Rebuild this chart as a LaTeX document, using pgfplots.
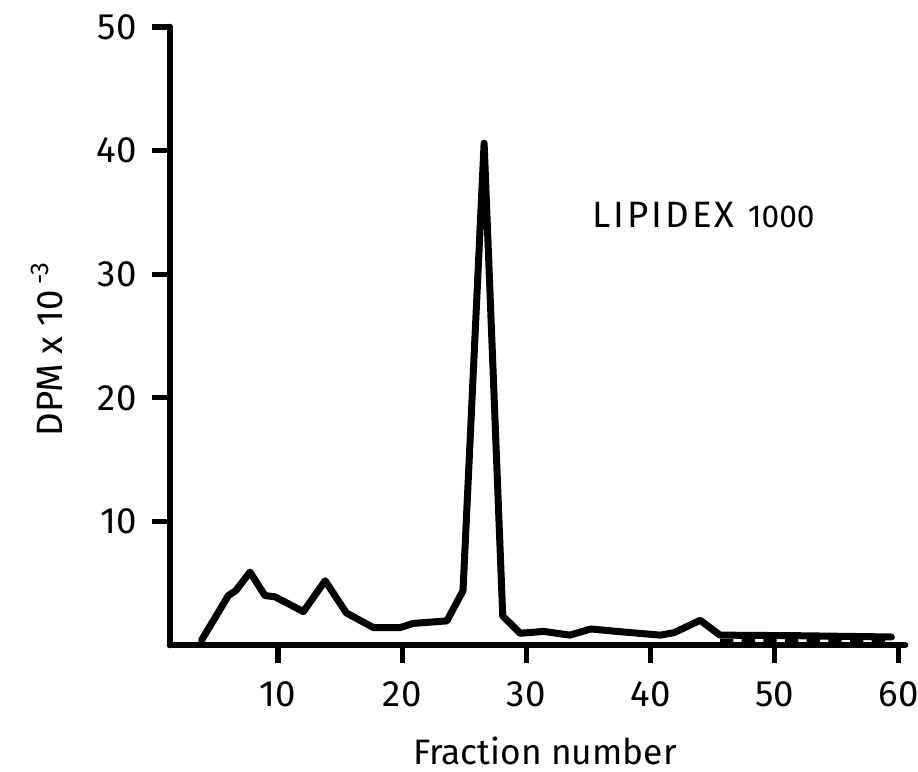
\documentclass[border=0pt]{standalone}
\usepackage{fontspec}
\setmainfont{Fira Sans}
\usepackage{pgfplots}
\pgfplotsset{compat=1.18}
\begin{document}
\begin{tikzpicture}[x=1pt,y=1pt]
\useasboundingbox (-51,-37.8) rectangle (224.4,193.5);
\begin{axis}[
  at={(0,0)}, anchor=south west,
  scale only axis, width=220.5pt, height=185.4pt,
  xmin=1.3, xmax=60.5, ymin=0, ymax=50,
  axis lines=left,
  axis line style={line width=2pt, -, line cap=round},
  tick align=outside,
  xtick={10,20,30,40,50,60}, ytick={10,20,30,40,50},
  major tick length=5.5pt,
  tick style={line width=1.6pt, black},
  /pgf/number format/assume math mode=true,
  ticklabel style={font=\fontsize{11}{13}\selectfont},
  xticklabel style={yshift=-2pt},
  yticklabel style={xshift=-1pt},
  clip=false,
]
\addplot[black, line width=2.1pt, line join=round, line cap=round] coordinates {
(3.85,0.4) (6.0,4.0) (6.6,4.4) (7.74,5.9) (8.95,4.0) (9.76,3.9)
(12.04,2.7) (13.8,5.2) (15.5,2.6) (17.7,1.4) (19.8,1.4) (20.9,1.75)
(23.6,1.95) (24.9,4.4) (26.6,40.6) (28.1,2.35) (29.5,0.95)
(31.4,1.1) (33.5,0.8) (35.2,1.3) (37.3,1.1) (40.8,0.8) (41.9,1.0)
(44.0,2.0) (45.6,0.8) (52.1,0.75) (59.4,0.65)
};
\addplot[black, line width=1.5pt, dash pattern=on 4pt off 2.5pt] coordinates {
(45.6,0.3) (52.1,0.3) (59.2,0.25)
};
\node[anchor=west] at (axis cs:34.4,34.8) {{\addfontfeatures{LetterSpace=8}\fontsize{11}{13}\selectfont LIPIDEX}\hspace{4pt}{\fontsize{9.5}{12}\selectfont 1000}};
\node at (axis cs:31.5,-8.6) {\fontsize{10.6}{13}\selectfont Fraction number};
\node[rotate=90] at (axis cs:-8.6,24.0) {\fontsize{11}{13}\selectfont DPM x 10\,\textsuperscript{-3}};
\end{axis}
\end{tikzpicture}
\end{document}
